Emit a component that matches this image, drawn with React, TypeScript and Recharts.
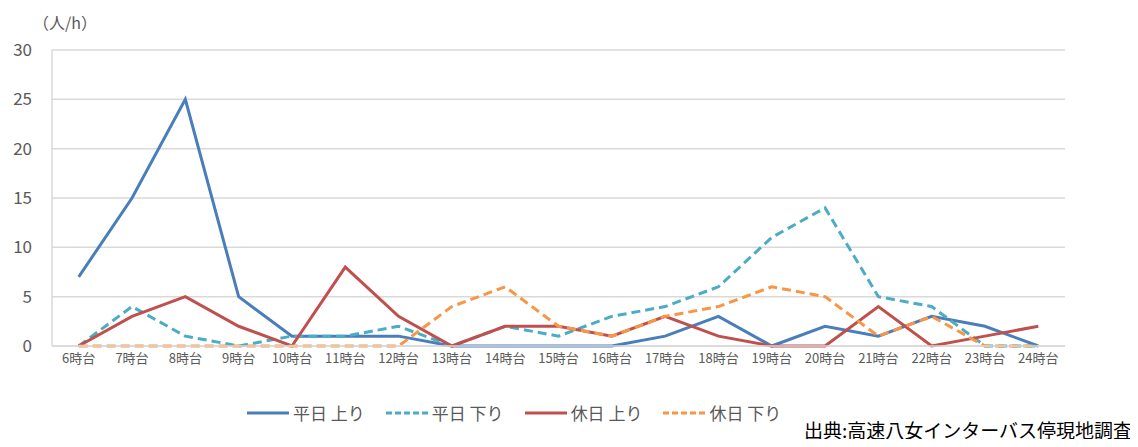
import {
	CartesianGrid,
	Legend,
	Line,
	LineChart,
	XAxis,
	YAxis,
} from "recharts";

const hours = [
	"6時台", "7時台", "8時台", "9時台", "10時台", "11時台", "12時台", "13時台", "14時台", "15時台",
	"16時台", "17時台", "18時台", "19時台", "20時台", "21時台", "22時台", "23時台", "24時台",
];
const weekdayUp = [7, 15, 25, 5, 1, 1, 1, 0, 0, 0, 0, 1, 3, 0, 2, 1, 3, 2, 0];
const weekdayDown = [0, 4, 1, 0, 1, 1, 2, 0, 2, 1, 3, 4, 6, 11, 14, 5, 4, 0, 0];
const holidayUp = [0, 3, 5, 2, 0, 8, 3, 0, 2, 2, 1, 3, 1, 0, 0, 4, 0, 1, 2];
const holidayDown = [0, 0, 0, 0, 0, 0, 0, 4, 6, 2, 1, 3, 4, 6, 5, 1, 3, 0, 0];
const yTicks = [0, 5, 10, 15, 20, 25, 30];

const series = [
	{ key: "wdUp", name: "平日 上り", color: "#4a7ebb", dash: undefined },
	{ key: "wdDown", name: "平日 下り", color: "#4bacc6", dash: "9 5" },
	{ key: "hdUp", name: "休日 上り", color: "#c0504d", dash: undefined },
	{ key: "hdDown", name: "休日 下り", color: "#f79646", dash: "9 5" },
];

const data = hours.map((h, i) => ({
	hour: h,
	wdUp: weekdayUp[i],
	wdDown: weekdayDown[i],
	hdUp: holidayUp[i],
	hdDown: holidayDown[i],
}));

const font = "'Noto Sans CJK JP', 'Noto Sans', sans-serif";
const gray = "#595959";

function LegendBox() {
	return (
		<div style={{ display: "flex", paddingLeft: 246, gap: 20, fontFamily: font, fontSize: 17, color: gray }}>
			{series.map((s) => (
				<div key={s.key} style={{ display: "flex", alignItems: "center" }}>
					<svg width={44} height={10}>
						<line
							x1={1}
							y1={5}
							x2={43}
							y2={5}
							stroke={s.color}
							strokeWidth={3}
							strokeDasharray={s.dash ? "6 3" : undefined}
						/>
					</svg>
					<span style={{ marginLeft: 3 }}>{s.name}</span>
				</div>
			))}
		</div>
	);
}

export default function App() {
	return (
		<div style={{ position: "relative", margin: -8, width: 1138, height: 447, background: "#fff", overflow: "hidden" }}>
			<div style={{ position: "absolute", left: 33, top: 10, fontFamily: font, fontSize: 16, color: gray }}>
				（人/h）
			</div>
			<LineChart
				width={1138}
				height={447}
				data={data}
				margin={{ top: 50, right: 73, bottom: 71, left: 0 }}
			>
				<CartesianGrid vertical={false} stroke="#d9d9d9" strokeWidth={1.5} />
				<XAxis
					dataKey="hour"
					padding={{ left: 26.7, right: 26.7 }}
					tickLine={false}
					axisLine={{ stroke: "#d9d9d9", strokeWidth: 1.5 }}
					tick={{ fill: gray, fontSize: 13, fontFamily: font }}
					interval={0}
					height={30}
				/>
				<YAxis
					domain={[0, 30]}
					ticks={yTicks}
					width={52}
					tickLine={false}
					axisLine={{ stroke: "#d9d9d9", strokeWidth: 1.5 }}
					tick={{ fill: gray, fontSize: 17, fontFamily: font }}
					tickMargin={14}
				/>
				<YAxis
					yAxisId="r"
					orientation="right"
					width={0}
					domain={[0, 30]}
					tick={false}
					tickLine={false}
					axisLine={{ stroke: "#d9d9d9", strokeWidth: 1.5 }}
				/>
				{series.map((s) => (
					<Line
						key={s.key}
						dataKey={s.key}
						name={s.name}
						type="linear"
						stroke={s.color}
						strokeWidth={3}
						strokeDasharray={s.dash}
						dot={false}
						isAnimationActive={false}
					/>
				))}
				<Legend
					verticalAlign="middle"
					layout="horizontal"
					content={<LegendBox />}
					wrapperStyle={{ top: 400, left: 0, width: 1138 }}
				/>
			</LineChart>
			<div style={{ position: "absolute", right: 6, top: 419, fontFamily: font, fontSize: 19, lineHeight: "22px", color: "#000", whiteSpace: "nowrap" }}>
				出典:高速八女インターバス停現地調査
			</div>
		</div>
	);
}
